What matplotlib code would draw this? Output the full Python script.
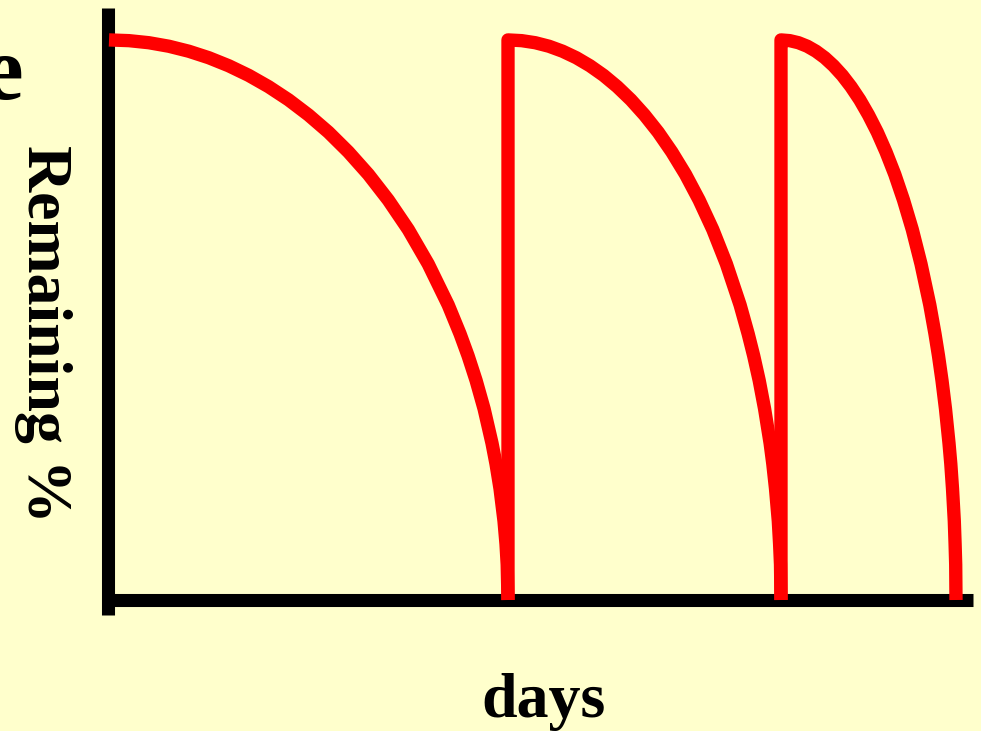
import matplotlib
matplotlib.use("Agg")
import matplotlib.pyplot as plt

# ---- data ----
seg1_days = [0.1, 2.1, 4.09, 6.09, 8.08, 10.08, 12.07, 14.07, 16.06, 18.06, 20.05, 22.05,
             24.04, 26.04, 28.03, 30.03, 32.02, 34.02, 35.21, 36.01, 36.81, 37.61, 38.40,
             38.80, 39.20, 39.60, 39.80, 39.92, 40.0]
seg1_pct = [100, 99.87, 99.50, 98.87, 97.98, 96.82, 95.39, 93.67, 91.65, 89.30, 86.60, 83.52,
            80.00, 75.99, 71.41, 66.14, 60.00, 52.68, 47.50, 43.59, 39.19, 34.12, 28.00,
            24.31, 19.90, 14.11, 9.99, 6.32, 0]

seg2_days = [40.0, 40.0, 41.37, 42.73, 44.10, 45.46, 46.83, 48.19, 49.56, 50.92, 52.29, 53.65,
             55.02, 56.38, 57.75, 59.11, 60.48, 61.84, 63.21, 64.02, 64.57, 65.12, 65.66,
             66.21, 66.48, 66.75, 67.03, 67.16, 67.25, 67.3]
seg2_pct = [0, 100, 99.87, 99.50, 98.87, 97.98, 96.82, 95.39, 93.67, 91.65, 89.30, 86.60,
            83.52, 80.00, 75.99, 71.41, 66.14, 60.00, 52.68, 47.50, 43.59, 39.19, 34.12,
            28.00, 24.31, 19.90, 14.11, 9.99, 6.32, 0]

seg3_days = [67.3, 67.3, 68.18, 69.05, 69.93, 70.8, 71.68, 72.55, 73.43, 74.3, 75.18, 76.05,
             76.93, 77.8, 78.68, 79.55, 80.43, 81.3, 82.18, 82.7, 83.05, 83.4, 83.75,
             84.1, 84.28, 84.45, 84.63, 84.71, 84.77, 84.8]
seg3_pct = [0, 100, 99.87, 99.50, 98.87, 97.98, 96.82, 95.39, 93.67, 91.65, 89.30, 86.60,
            83.52, 80.00, 75.99, 71.41, 66.14, 60.00, 52.68, 47.50, 43.59, 39.19, 34.12,
            28.00, 24.31, 19.90, 14.11, 9.99, 6.32, 0]

x_label = "days"
y_label = "Remaining %"
corner_text = "e"

# ---- figure ----
W, H = 981, 731
BG = "#FFFFCC"
fig = plt.figure(figsize=(W / 100, H / 100), dpi=100, facecolor=BG)
ax = fig.add_axes([108 / W, (H - 600) / H, (973 - 108) / W, (600 - 8) / H])
ax.set_facecolor(BG)
ax.set_xlim(0, 86.5)
ax.set_ylim(0, 105.7)
for s in ax.spines.values():
    s.set_visible(False)
ax.set_xticks([])
ax.set_yticks([])

LW_AX = 9.4
# axis lines
ax.plot([0, 0], [-2.7, 105.7], color="black", lw=LW_AX, solid_capstyle="butt",
        clip_on=False, zorder=2)
ax.plot([0, 86.5], [0, 0], color="black", lw=LW_AX, solid_capstyle="butt",
        clip_on=False, zorder=2)

for xs, ys in [(seg1_days, seg1_pct), (seg2_days, seg2_pct), (seg3_days, seg3_pct)]:
    ax.plot(xs, ys, color="#FF0000", lw=9.6, solid_capstyle="butt",
            solid_joinstyle="round", clip_on=False, zorder=3)

serif = ["Liberation Serif", "DejaVu Serif"]
fig.text(543 / W, 1 - 717 / H, x_label, ha="center", va="baseline",
         fontsize=46, fontweight="bold", family=serif)
fig.text(28 / W, 1 - 334 / H, y_label, ha="center", va="baseline",
         rotation=270, rotation_mode="anchor",
         fontsize=46, fontweight="bold", family=serif)
fig.text(24 / W, 1 - 99 / H, corner_text, ha="right", va="baseline",
         fontsize=66, fontweight="bold", family=serif)

fig.savefig("out.png", dpi=100, facecolor=BG)
